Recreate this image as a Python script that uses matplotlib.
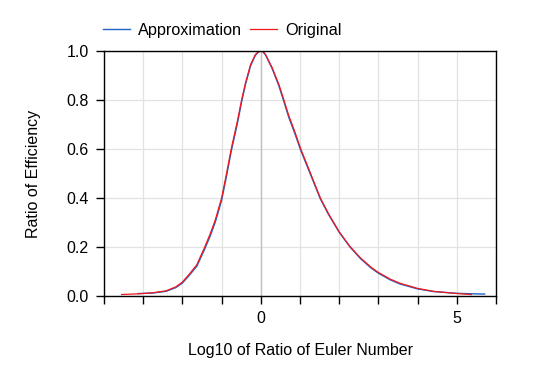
import matplotlib
matplotlib.use("Agg")
import matplotlib.pyplot as plt

plt.rcParams['font.family'] = ['Liberation Sans', 'DejaVu Sans']

# Original curve
orig_x = [-3.55, -3.1, -2.76, -2.42, -2.17, -2.0, -1.82, -1.63, -1.43, -1.29, -1.16, -1.0,
          -0.874, -0.755, -0.59, -0.49, -0.39, -0.26, -0.14, -0.06, 0.0, 0.06, 0.12, 0.29, 0.46,
          0.59, 0.71, 0.88, 1.02, 1.22, 1.52, 1.73, 2.0, 2.27, 2.54, 2.80, 3.0, 3.30, 3.55,
          4.0, 4.41, 5.0, 5.37]
orig_y = [0.006, 0.009, 0.013, 0.021, 0.037, 0.057, 0.090, 0.128, 0.200, 0.254, 0.311, 0.400,
          0.500, 0.600, 0.719, 0.800, 0.870, 0.945, 0.985, 0.997, 1.0, 0.997, 0.986, 0.932, 0.864,
          0.800, 0.738, 0.665, 0.600, 0.520, 0.400, 0.335, 0.262, 0.203, 0.156, 0.119, 0.096, 0.069, 0.052,
          0.031, 0.019, 0.010, 0.006]

# Approximation curve
approx_x = [-3.13, -2.76, -2.42, -2.17, -2.0, -1.82, -1.63, -1.43, -1.29, -1.16, -1.0,
            -0.874, -0.755, -0.59, -0.49, -0.39, -0.26, -0.14, -0.06, 0.0, 0.06, 0.12, 0.29, 0.46,
            0.59, 0.71, 0.88, 1.02, 1.22, 1.52, 1.73, 2.0, 2.27, 2.54, 2.80, 3.0, 3.30, 3.55,
            4.0, 4.41, 5.0, 5.4, 5.71]
approx_y = [0.010, 0.012, 0.019, 0.034, 0.053, 0.085, 0.122, 0.192, 0.245, 0.302, 0.390,
            0.490, 0.590, 0.710, 0.792, 0.864, 0.940, 0.982, 0.996, 1.0, 0.996, 0.984, 0.928, 0.858,
            0.793, 0.731, 0.658, 0.594, 0.515, 0.396, 0.332, 0.260, 0.201, 0.153, 0.116, 0.093, 0.066, 0.049,
            0.029, 0.018, 0.011, 0.009, 0.008]

x_ticks = [-4, -3, -2, -1, 0, 1, 2, 3, 4, 5, 6]
x_tick_labels = ['', '', '', '', '0', '', '', '', '', '5', '']
y_ticks = [0.0, 0.2, 0.4, 0.6, 0.8, 1.0]
y_tick_labels = ['0.0', '0.2', '0.4', '0.6', '0.8', '1.0']

fig = plt.figure(figsize=(5.35, 3.74), dpi=100)
ax = fig.add_axes([104/535, 1-296/374, (496-104)/535, (296-51)/374])

ax.plot(approx_x, approx_y, color='#1f64c8', lw=1.0, label='Approximation')
ax.plot(orig_x, orig_y, color='#f0181e', lw=0.9, label='Original')

ax.set_xlim(-4, 6)
ax.set_ylim(0, 1)
ax.set_xticks(x_ticks)
ax.set_xticklabels(x_tick_labels)
ax.set_yticks(y_ticks)
ax.set_yticklabels(y_tick_labels)
ax.grid(True, color='#e2e2e2', lw=0.9)
ax.set_axisbelow(True)
ax.axvline(0, color='#c0c0c0', lw=1.0, zorder=1)
ax.tick_params(direction='out', length=6, width=1, labelsize=11.5, pad=5, color='black')
for s in ax.spines.values():
    s.set_color('black')
    s.set_linewidth(1.0)

ax.set_xlabel('Log10 of Ratio of Euler Number', fontsize=11.5, labelpad=12)
ax.set_ylabel('Ratio of Efficiency', fontsize=11.5, labelpad=18)

ax.legend(loc='lower left', bbox_to_anchor=(-0.028, 1.014), ncol=2, frameon=False,
          fontsize=11.7, handlelength=1.7, handletextpad=0.45, columnspacing=0.5,
          borderaxespad=0.2)

fig.savefig('out.png', dpi=100)
